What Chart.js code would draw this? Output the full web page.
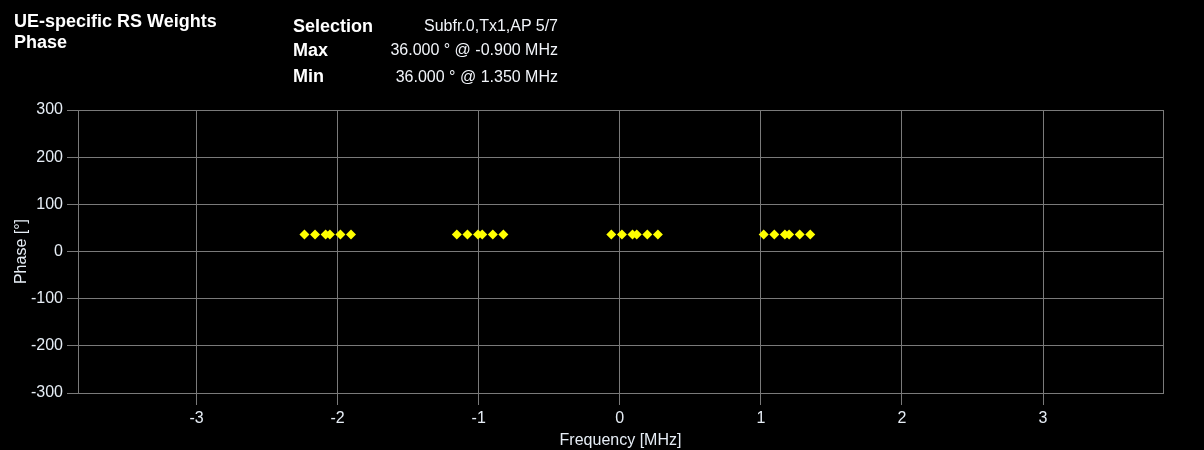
<!DOCTYPE html>
<html>
<head>
<meta charset="utf-8">
<script src="https://cdn.jsdelivr.net/npm/chart.js@4.4.1/dist/chart.umd.min.js"></script>
<style>
  html, body { margin: 0; padding: 0; background: #000; }
  #wrap { position: relative; width: 1204px; height: 450px; background: #000; }
  #wrap canvas { position: absolute; left: 0; top: 0; }
  .hdr { position: absolute; color: #fff; font-family: "Liberation Sans", Arial, sans-serif; white-space: nowrap; }
  .b { font-weight: bold; font-size: 18px; line-height: 18px; }
  .val { text-align: right; width: 200px; font-size: 16px; line-height: 16px; color: #f2f5fa; }
</style>
</head>
<body>
<div id="wrap">
  <canvas id="chart-phase" width="1204" height="450"></canvas>
  <div class="hdr b" style="left:14px; top:12px;">UE-specific RS Weights</div>
  <div class="hdr b" style="left:14px; top:33px;">Phase</div>
  <div class="hdr b" style="left:293px; top:17px;">Selection</div>
  <div class="hdr b" style="left:293px; top:41px;">Max</div>
  <div class="hdr b" style="left:293px; top:67px;">Min</div>
  <div class="hdr val" style="left:358px; top:18px;">Subfr.0,Tx1,AP 5/7</div>
  <div class="hdr val" style="left:358px; top:42px;">36.000 ° @ -0.900 MHz</div>
  <div class="hdr val" style="left:358px; top:69px;">36.000 ° @ 1.350 MHz</div>
</div>
<script>
const freqMHz = [
  -2.235, -2.160, -2.085, -2.055, -1.980, -1.905,
  -1.155, -1.080, -1.005, -0.975, -0.900, -0.825,
  -0.060, 0.015, 0.090, 0.120, 0.195, 0.270,
  1.020, 1.095, 1.170, 1.200, 1.275, 1.350
];
const phaseDeg = [
  36, 36, 36, 36, 36, 36,
  36, 36, 36, 36, 36, 36,
  36, 36, 36, 36, 36, 36,
  36, 36, 36, 36, 36, 36
];
const xTicks = [-3, -2, -1, 0, 1, 2, 3];
const yTicks = [-300, -200, -100, 0, 100, 200, 300];
const xRange = [-3.84, 3.85];

const gridGray = '#7a7a7a';
const labelColor = '#e6edf5';
const fontFamily = '"Liberation Sans", Arial, sans-serif';

// frame the whole plot area (right edge has no tick of its own)
const frame = {
  id: 'frame',
  afterDraw(chart) {
    const a = chart.chartArea, c = chart.ctx;
    c.save();
    c.strokeStyle = gridGray;
    c.lineWidth = 1;
    c.strokeRect(Math.round(a.left) + 0.5, Math.round(a.top) + 0.5,
      Math.round(a.right - a.left), Math.round(a.bottom - a.top));
    c.restore();
  }
};

new Chart(document.getElementById('chart-phase'), {
  type: 'scatter',
  data: {
    datasets: [{
      data: freqMHz.map((f, i) => ({ x: f, y: phaseDeg[i] })),
      pointStyle: 'rectRot',
      radius: 5,
      backgroundColor: '#ffff00',
      borderColor: '#ffff00',
      borderWidth: 0
    }]
  },
  options: {
    responsive: false,
    animation: false,
    devicePixelRatio: 1,
    layout: { padding: { top: 110, right: 41, left: 0, bottom: 0 } },
    plugins: { legend: { display: false }, tooltip: { enabled: false } },
    scales: {
      x: {
        type: 'linear',
        min: xRange[0],
        max: xRange[1],
        afterBuildTicks: s => { s.ticks = xTicks.map(v => ({ value: v })); },
        afterFit: s => { s.height = 57; },
        grid: { color: gridGray, tickLength: 12, drawTicks: true },
        border: { color: gridGray },
        ticks: { color: labelColor, font: { family: fontFamily, size: 16 }, padding: 4, maxRotation: 0 },
        title: { display: true, text: 'Frequency [MHz]', color: labelColor, font: { family: fontFamily, size: 16 }, padding: { top: 0, bottom: 0 } }
      },
      y: {
        min: -300,
        max: 300,
        afterBuildTicks: s => { s.ticks = yTicks.map(v => ({ value: v })); },
        afterFit: s => { s.width = 78; },
        grid: { color: gridGray, tickLength: 11, drawTicks: true },
        border: { color: gridGray },
        ticks: { color: labelColor, font: { family: fontFamily, size: 16 }, padding: 4 },
        title: { display: true, text: 'Phase [°]', color: labelColor, font: { family: fontFamily, size: 16 }, padding: { top: 12, bottom: 0 } }
      }
    }
  },
  plugins: [frame]
});
</script>
</body>
</html>
